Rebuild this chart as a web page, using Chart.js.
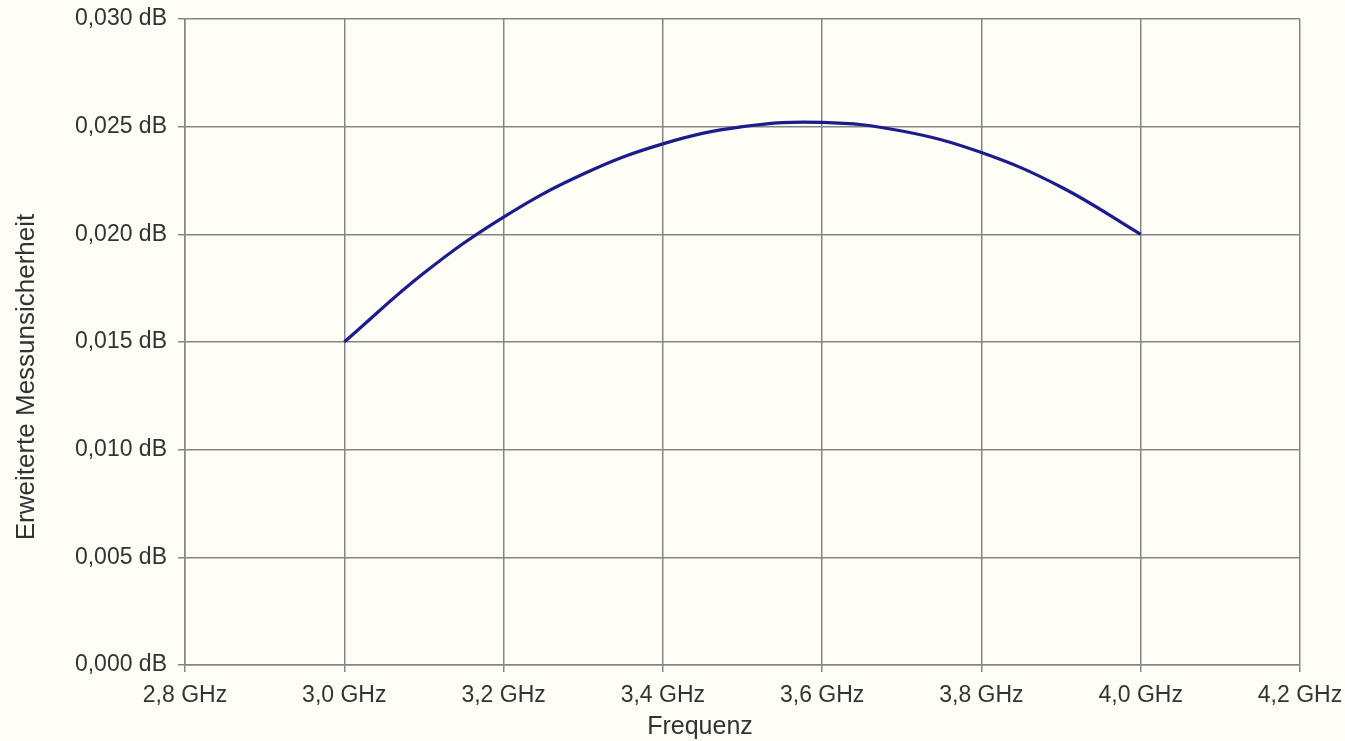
<!DOCTYPE html>
<html>
<head>
<meta charset="utf-8">
<script src="https://cdn.jsdelivr.net/npm/chart.js@4/dist/chart.umd.min.js"></script>
<style>
  body { margin: 0; background: #fefef6; }
  canvas { display: block; }
</style>
</head>
<body>
<canvas id="chart" width="1345" height="741"></canvas>
<script>
// values
const frequency = [3.0, 3.1, 3.2, 3.3, 3.4, 3.5, 3.6, 3.7, 3.8, 3.9, 4.0];
const uncertainty = [0.01500, 0.01820, 0.02080, 0.02280, 0.02420, 0.02500, 0.02520, 0.02480, 0.02380, 0.02220, 0.02000];
const xTicks = [2.8, 3.0, 3.2, 3.4, 3.6, 3.8, 4.0, 4.2];
const yTicks = [0, 0.005, 0.010, 0.015, 0.020, 0.025, 0.030];

const xTitle = 'Frequenz';
const yTitle = 'Erweiterte Messunsicherheit';

const fontFamily = '"Liberation Sans", Arial, Helvetica, sans-serif';
const gridColor = '#858585';
const textColor = '#333333';

// axis titles sit off-centre in the original, so draw them by hand
const axisTitles = {
    id: 'axisTitles',
    afterDraw(chart) {
        const ctx = chart.ctx;
        ctx.save();
        ctx.fillStyle = textColor;
        ctx.font = '25px ' + fontFamily;
        ctx.textAlign = 'center';
        ctx.textBaseline = 'middle';
        ctx.fillText(xTitle, 700, 727);
        ctx.translate(27, 377);
        ctx.rotate(-Math.PI / 2);
        ctx.font = '26px ' + fontFamily;
        ctx.fillText(yTitle, 0, 0);
        ctx.restore();
    }
};

const ctx = document.querySelector('#chart').getContext('2d');

new Chart(ctx, {
    type: 'line',
    data: {
        datasets: [{
            label: yTitle,
            data: frequency.map((f, i) => ({ x: f, y: uncertainty[i] })),
            borderColor: '#1c1c8c',
            borderWidth: 3.2,
            pointRadius: 0,
            tension: 0.4,
            fill: false
        }]
    },
    options: {
        responsive: false,
        animation: false,
        layout: { padding: { top: 19, right: 45, bottom: 0, left: 0 } },
        plugins: {
            legend: { display: false },
            tooltip: { enabled: false }
        },
        scales: {
            x: {
                type: 'linear',
                min: 2.8,
                max: 4.2,
                afterBuildTicks: scale => { scale.ticks = xTicks.map(v => ({ value: v })); },
                afterFit: scale => {
                    scale.height = 76;
                    scale.paddingLeft = 0;
                    scale.paddingRight = 0;
                },
                grid: { color: gridColor, lineWidth: 1.5, tickLength: 7 },
                border: { color: gridColor, width: 1.5 },
                ticks: {
                    color: textColor,
                    padding: 10,
                    maxRotation: 0,
                    font: { family: fontFamily, size: 23 },
                    callback: v => v.toFixed(1).replace('.', ',') + ' GHz'
                }
            },
            y: {
                min: 0,
                max: 0.03,
                afterBuildTicks: scale => { scale.ticks = yTicks.map(v => ({ value: v })); },
                afterFit: scale => {
                    scale.width = 185;
                    scale.paddingTop = 0;
                    scale.paddingBottom = 0;
                },
                grid: { color: gridColor, lineWidth: 1.5, tickLength: 7 },
                border: { color: gridColor, width: 1.5 },
                ticks: {
                    color: textColor,
                    padding: 11,
                    font: { family: fontFamily, size: 23 },
                    callback: v => v.toFixed(3).replace('.', ',') + ' dB'
                }
            }
        }
    },
    plugins: [axisTitles]
});
</script>
</body>
</html>
